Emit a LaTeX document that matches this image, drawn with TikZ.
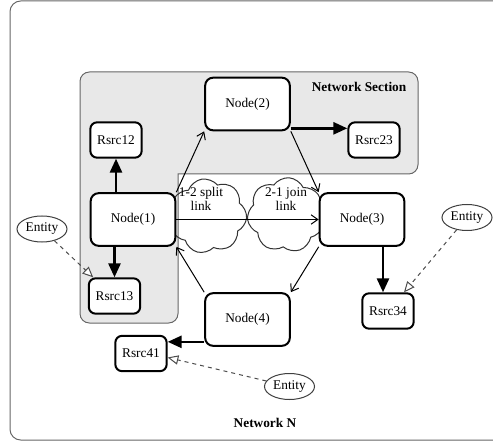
\documentclass[tikz,border=0pt]{standalone}
\usepackage{fontspec}
\setmainfont{Liberation Serif}
\usetikzlibrary{arrows.meta,shapes.geometric,shapes.symbols}
\begin{document}
\begin{tikzpicture}[x=0.75pt,y=-0.75pt,
  font=\fontsize{10}{12}\selectfont,
  bignode/.style={draw=black,line width=1.5pt,rounded corners=6pt,fill=white,minimum width=63.5pt,minimum height=39.5pt,inner sep=0pt},
  rsrc/.style={draw=black,line width=1.5pt,rounded corners=5pt,fill=white,minimum width=38.5pt,minimum height=26.5pt,inner sep=0pt},
  entity/.style={ellipse,draw=black!75,line width=0.75pt,fill=white,minimum width=37.5pt,minimum height=19.5pt,inner sep=0pt},
  cloudshape/.style={cloud,cloud puffs=7,cloud puff arc=120,cloud ignores aspect,draw=black!80,line width=0.75pt,minimum width=58pt,minimum height=56pt},
  heavy/.style={line width=2pt,-{Triangle[length=10.5pt,width=9pt]}},
  thin/.style={line width=0.75pt,-{Straight Barb[length=5pt,width=7pt]}},
  entarrow/.style={dashed,draw=black!70,line width=0.75pt,-{Triangle[open,fill=white,length=8pt,width=7pt]}},
  lbl/.style={font=\fontsize{10}{12}\selectfont\bfseries},
  cloudtxt/.style={align=center,font=\fontsize{10}{10.5}\selectfont,inner sep=0pt}
]
\useasboundingbox (0,0) rectangle (493,442);
% outer frame
\draw[draw=black!60,line width=0.75pt,rounded corners=8pt] (493,1) -- (10,1) -- (10,440) -- (493,440);
% network section
\path[fill=black!9,draw=black!60,line width=0.75pt,rounded corners=7pt]
  (80,72) -- (418,72) -- (418,174) -- (190,174) [sharp corners] -- (178,174) -- (178,186) [rounded corners=7pt] -- (178,323) -- (80,323) -- cycle;
\node[lbl,anchor=east] (nsec) at (411,87) {Network Section};
\node[lbl] (nn) at (265,423) {Network N};
% clouds
\node[cloudshape,rotate=10] (c1) at (208,216) {};
\node[cloudshape,rotate=-5] (c2) at (286,215) {};
% nodes
\node[bignode] (n2) at (247.5,104) {Node(2)};
\node[bignode] (n1) at (133,219.5) {Node(1)};
\node[bignode] (n3) at (362,219.5) {Node(3)};
\node[bignode] (n4) at (247.5,319.5) {Node(4)};
\node[rsrc] (r12) at (116,140) {Rsrc12};
\node[rsrc] (r23) at (374,140) {Rsrc23};
\node[rsrc] (r13) at (114.5,296) {Rsrc13};
\node[rsrc] (r34) at (388,311) {Rsrc34};
\node[rsrc] (r41) at (141,353.5) {Rsrc41};
\node[entity] (e1) at (42,229) {Entity};
\node[entity] (e3) at (467,217.5) {Entity};
\node[entity] (e4) at (289.5,386.5) {Entity};
% thin links
\draw[thin] (n1.north east) -- (n2.south west);
\draw[thin] (n2.south east) -- (n3.north west);
\draw[thin] (n1.east) -- (n3.west);
\draw[thin] (n3.south west) -- (n4.north east);
\draw[thin] (n4.north west) -- (n1.south east);
\node[cloudtxt] (t1) at (201,199) {1-2 split\\link};
\node[cloudtxt] (t2) at (286,199) {2-1 join\\link};
% heavy arrows
\draw[heavy] (r12 |- n1.north) -- (r12.south);
\draw[heavy] (r13 |- n1.south) -- (r13.north);
\draw[heavy] ([yshift=2.25pt]n2.south east) -- ([yshift=2.25pt]n2.south east -| r23.west);
\draw[heavy] ([xshift=-3.75pt]r34.north |- n3.south) -- ([xshift=-3.75pt]r34.north);
\draw[heavy] ([yshift=3.75pt]n4.south west) -- ([yshift=3.75pt]n4.south west -| r41.east);
% entity arrows
\draw[entarrow] (e1) -- ([xshift=4pt]r13.north west);
\draw[entarrow] (e3) -- ([xshift=-8pt]r34.north east);
\draw[entarrow] (e4) -- ([yshift=-3pt]r41.east);
\end{tikzpicture}
\end{document}
